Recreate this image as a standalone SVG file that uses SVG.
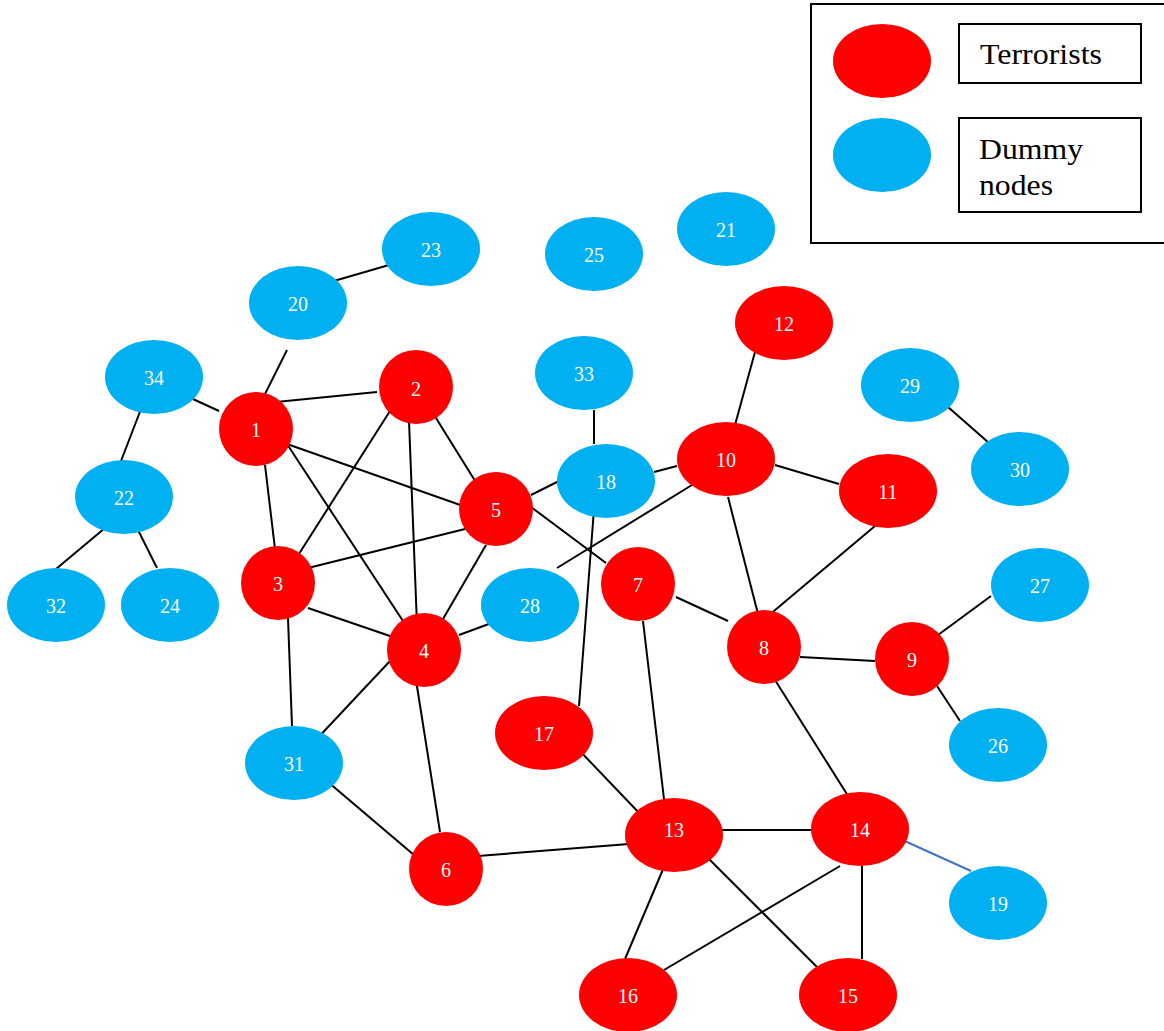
<svg xmlns="http://www.w3.org/2000/svg" width="1164" height="1031" viewBox="0 0 1164 1031">
<style>
.r{fill:#FF0000}
.b{fill:#00B0F0}
.t{font-family:"Liberation Serif","Times New Roman",serif;font-size:20px;fill:#fff;text-anchor:middle;dominant-baseline:central}
.e line{stroke:#000;stroke-width:2}
.lg{font-family:"Liberation Serif","Times New Roman",serif;font-size:30px;fill:#000}
</style>
<rect width="1164" height="1031" fill="#fff"/>
<g id="legend">
<rect x="811" y="4" width="356" height="239" fill="none" stroke="#000" stroke-width="2"/>
<ellipse class="r" cx="882" cy="61" rx="49" ry="37"/>
<ellipse class="b" cx="882" cy="155" rx="49" ry="37"/>
<rect x="959" y="24" width="182" height="59" fill="none" stroke="#000" stroke-width="2"/>
<rect x="959" y="118" width="182" height="94" fill="none" stroke="#000" stroke-width="2"/>
<text class="lg" x="980" y="64" textLength="122" lengthAdjust="spacingAndGlyphs">Terrorists</text>
<text class="lg" x="979" y="159" textLength="104" lengthAdjust="spacingAndGlyphs">Dummy</text>
<text class="lg" x="979" y="195" textLength="74" lengthAdjust="spacingAndGlyphs">nodes</text>
</g>
<g id="connectors" class="e">
<line x1="327" y1="283" x2="389" y2="265"/>
<line x1="287" y1="350" x2="264" y2="396"/>
<line x1="182" y1="394" x2="219" y2="411"/>
<line x1="141" y1="409" x2="121" y2="461"/>
<line x1="105" y1="528" x2="56" y2="569"/>
<line x1="137" y1="528" x2="157" y2="568"/>
<line x1="276" y1="402" x2="377" y2="392"/>
<line x1="287" y1="444" x2="466" y2="507"/>
<line x1="287" y1="444" x2="403" y2="621"/>
<line x1="265" y1="465" x2="275" y2="549"/>
<line x1="390" y1="411" x2="297" y2="557"/>
<line x1="409" y1="421" x2="417" y2="625"/>
<line x1="431" y1="410" x2="477" y2="484"/>
<line x1="465" y1="529" x2="308" y2="568"/>
<line x1="486" y1="545" x2="443" y2="619"/>
<line x1="531" y1="495" x2="559" y2="481"/>
<line x1="531" y1="507" x2="606" y2="563"/>
<line x1="308" y1="608" x2="390" y2="636"/>
<line x1="288" y1="618" x2="292" y2="726"/>
<line x1="459" y1="635" x2="497" y2="621"/>
<line x1="390" y1="661" x2="313" y2="743"/>
<line x1="416" y1="680" x2="440" y2="832"/>
<line x1="328" y1="782" x2="414" y2="855"/>
<line x1="478" y1="856" x2="629" y2="844"/>
<line x1="654" y1="472" x2="677" y2="466"/>
<line x1="594" y1="509" x2="579" y2="706"/>
<line x1="594" y1="410" x2="594" y2="444"/>
<line x1="692" y1="485" x2="557" y2="568"/>
<line x1="755" y1="352" x2="735" y2="425"/>
<line x1="775" y1="465" x2="839" y2="484"/>
<line x1="728" y1="497" x2="758" y2="614"/>
<line x1="875" y1="526" x2="768" y2="616"/>
<line x1="676" y1="597" x2="728" y2="621"/>
<line x1="643" y1="621" x2="664" y2="799"/>
<line x1="800" y1="657" x2="875" y2="661"/>
<line x1="775" y1="680" x2="850" y2="799"/>
<line x1="938" y1="635" x2="991" y2="596"/>
<line x1="937" y1="686" x2="960" y2="721"/>
<line x1="948" y1="407" x2="989" y2="443"/>
<line x1="577" y1="748" x2="643" y2="817"/>
<line x1="722" y1="830" x2="811" y2="830"/>
<line x1="664" y1="867" x2="625" y2="959"/>
<line x1="706" y1="856" x2="822" y2="972"/>
<line x1="840" y1="866" x2="664" y2="970"/>
<line x1="862" y1="866" x2="862" y2="959"/>
<line x1="898" y1="838" x2="971" y2="871" style="stroke:#4472C4"/>
</g>
<g id="n23"><ellipse class="b" cx="431" cy="249" rx="49" ry="37"/><text class="t" x="431" y="250">23</text></g>
<g id="n20"><ellipse class="b" cx="298" cy="303" rx="49" ry="37"/><text class="t" x="298" y="304">20</text></g>
<g id="n25"><ellipse class="b" cx="594" cy="254" rx="49" ry="37"/><text class="t" x="594" y="255">25</text></g>
<g id="n21"><ellipse class="b" cx="726" cy="229" rx="49" ry="37"/><text class="t" x="726" y="230">21</text></g>
<g id="n34"><ellipse class="b" cx="154" cy="377" rx="49" ry="37"/><text class="t" x="154" y="378">34</text></g>
<g id="n33"><ellipse class="b" cx="584" cy="373" rx="49" ry="37"/><text class="t" x="584" y="374">33</text></g>
<g id="n29"><ellipse class="b" cx="910" cy="385" rx="49" ry="37"/><text class="t" x="910" y="386">29</text></g>
<g id="n30"><ellipse class="b" cx="1020" cy="469" rx="49" ry="37"/><text class="t" x="1020" y="470">30</text></g>
<g id="n22"><ellipse class="b" cx="124" cy="497" rx="49" ry="37"/><text class="t" x="124" y="498">22</text></g>
<g id="n18"><ellipse class="b" cx="606" cy="481" rx="49" ry="37"/><text class="t" x="606" y="482">18</text></g>
<g id="n32"><ellipse class="b" cx="56" cy="605" rx="49" ry="37"/><text class="t" x="56" y="606">32</text></g>
<g id="n24"><ellipse class="b" cx="170" cy="605" rx="49" ry="37"/><text class="t" x="170" y="606">24</text></g>
<g id="n28"><ellipse class="b" cx="530" cy="605" rx="49" ry="37"/><text class="t" x="530" y="606">28</text></g>
<g id="n27"><ellipse class="b" cx="1040" cy="585" rx="49" ry="37"/><text class="t" x="1040" y="586">27</text></g>
<g id="n26"><ellipse class="b" cx="998" cy="745" rx="49" ry="37"/><text class="t" x="998" y="746">26</text></g>
<g id="n31"><ellipse class="b" cx="294" cy="763" rx="49" ry="37"/><text class="t" x="294" y="764">31</text></g>
<g id="n19"><ellipse class="b" cx="998" cy="903" rx="49" ry="37"/><text class="t" x="998" y="904">19</text></g>
<g id="n12"><ellipse class="r" cx="784" cy="323" rx="49" ry="37"/><text class="t" x="784" y="324">12</text></g>
<g id="n2"><ellipse class="r" cx="416" cy="387" rx="37" ry="37"/><text class="t" x="416" y="389">2</text></g>
<g id="n1"><ellipse class="r" cx="256" cy="429" rx="37" ry="37"/><text class="t" x="256" y="430">1</text></g>
<g id="n5"><ellipse class="r" cx="496" cy="509" rx="37" ry="37"/><text class="t" x="496" y="510">5</text></g>
<g id="n10"><ellipse class="r" cx="726" cy="459" rx="49" ry="37"/><text class="t" x="726" y="460">10</text></g>
<g id="n11"><ellipse class="r" cx="888" cy="491" rx="49" ry="37"/><text class="t" x="888" y="492">11</text></g>
<g id="n3"><ellipse class="r" cx="278" cy="583" rx="37" ry="37"/><text class="t" x="278" y="584">3</text></g>
<g id="n7"><ellipse class="r" cx="638" cy="584" rx="37" ry="37"/><text class="t" x="638" y="585">7</text></g>
<g id="n4"><ellipse class="r" cx="424" cy="650" rx="37" ry="37"/><text class="t" x="424" y="651">4</text></g>
<g id="n8"><ellipse class="r" cx="764" cy="647" rx="37" ry="37"/><text class="t" x="764" y="648">8</text></g>
<g id="n9"><ellipse class="r" cx="912" cy="659" rx="37" ry="37"/><text class="t" x="912" y="660">9</text></g>
<g id="n17"><ellipse class="r" cx="544" cy="733" rx="49" ry="37"/><text class="t" x="544" y="734">17</text></g>
<g id="n13"><ellipse class="r" cx="674" cy="835" rx="49" ry="37"/><text class="t" x="674" y="830">13</text></g>
<g id="n14"><ellipse class="r" cx="860" cy="829" rx="49" ry="37"/><text class="t" x="860" y="830">14</text></g>
<g id="n6"><ellipse class="r" cx="446" cy="869" rx="37" ry="37"/><text class="t" x="446" y="870">6</text></g>
<g id="n16"><ellipse class="r" cx="628" cy="995" rx="49" ry="37"/><text class="t" x="628" y="996">16</text></g>
<g id="n15"><ellipse class="r" cx="848" cy="995" rx="49" ry="37"/><text class="t" x="848" y="996">15</text></g>
</svg>
